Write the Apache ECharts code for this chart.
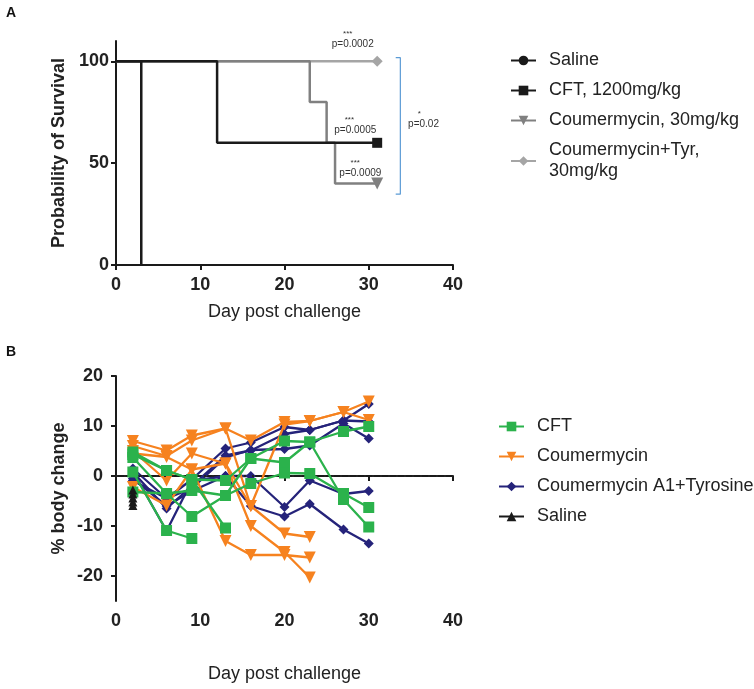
<!DOCTYPE html>
<html><head><meta charset="utf-8">
<script src="https://cdn.jsdelivr.net/npm/echarts@6/dist/echarts.min.js"></script>
<style>html,body{margin:0;padding:0;background:#fff}#c{width:754px;height:689px}</style>
</head><body><div id="c"></div>
<script>
const FONT = '"Liberation Sans", Arial, Helvetica, sans-serif';
const AXC = '#1a1a1a';

// ---------- Panel A : survival (day, % surviving) ----------
const survSaline = [[0, 100], [3, 0]];
const survCFT = [[0, 100], [12, 60], [31, 60]];
const survCoum = [[0, 100], [23, 80], [25, 60], [26, 40], [31, 40]];
const survCoumTyr = [[0, 100], [31, 100]];
const survTicksY = [0, 50, 100];

// ---------- Panel B : % body change ----------
const days = [2, 6, 9, 13, 16, 20, 23, 27, 30];
const cft1 = [4.8, 1.1, -0.7, -0.9, 3.5, 7.0, 6.8, 8.9, 9.9];
const cft2 = [3.7, -3.5, -2.9, -3.9, 3.5, 2.7, 6.8, -4.7, -10.2];
const cft3 = [-3.2, -3.5, -8.1, -3.9, -1.5, 0.6, 0.5, -3.5, -6.3];
const cft4 = [4.3, 1.1, -0.7, -10.4];
const cft5 = [0.8, -10.9, -12.5];
const coum1 = [7.0, 5.1, 8.1, 9.5, 7.1, 10.8, 11.0, 12.8, 14.9];
const coum2 = [6.0, 4.0, 7.1, 9.5, -6.0, 10.3, 11.0, 12.8, 11.2];
const coum3 = [5.0, -0.9, 4.5, 2.5, -10.0, -15.2, -20.3];
const coum4 = [-2.2, -5.9, 1.3, -13.0, -15.8, -15.8, -16.3];
const coum5 = [4.5, 3.8, 1.3, 2.5, -6.0, -11.5, -12.2];
const tyr1 = [1.5, -4.5, -0.7, 5.5, 6.7, 9.8, 9.2, 11.1, 14.4];
const tyr2 = [0.8, -6.5, -2.0, 4.1, 5.1, 8.4, 9.2, 11.1, 10.9];
const tyr3 = [-0.9, -4.5, -2.5, 3.7, 5.2, 5.4, 6.1, 10.5, 7.5];
const tyr4 = [1.0, -11.0, -1.0, 0.0, 0.0, -6.2, -0.9, -3.6, -3.0];
const tyr5 = [-0.5, -6.0, -3.0, 0.0, -6.0, -8.1, -5.6, -10.7, -13.5];
const salineB = [-2.8, -3.6, -4.4, -5.2, -5.9];
const bodyTicksY = [-20, -10, 0, 10, 20];

// annotations (data coords of panel A)
const annText = [
  {x: 27.5, y: 113.6, t: '***', s: 8}, {x: 28.1, y: 108.2, t: 'p=0.0002', s: 10},
  {x: 27.7, y: 71.4, t: '***', s: 8}, {x: 28.4, y: 66.2, t: 'p=0.0005', s: 10},
  {x: 28.4, y: 50.3, t: '***', s: 8}, {x: 29.0, y: 45.2, t: 'p=0.0009', s: 10},
  {x: 36.0, y: 74.4, t: '*', s: 8}, {x: 36.5, y: 68.9, t: 'p=0.02', s: 10}
];
const bracket = [[33.2, 101.8], [33.75, 101.8], [33.75, 34.8], [33.2, 34.8]];

const GREEN = '#2bb24c', ORANGE = '#f6821f', NAVY = '#25237a';

function survSeries(name, pts, color, symbol, size, rot, z, endMarker) {
  return {
    type: 'line', name, xAxisIndex: 0, yAxisIndex: 0, step: 'end', z,
    symbol, symbolSize: size, symbolRotate: rot, color,
    lineStyle: {color, width: 2.5}, itemStyle: {color},
    data: pts.map((p, i) => (endMarker && i === pts.length - 1)
      ? {value: p} : {value: p, symbol: 'none'}),
    animation: false, silent: true
  };
}

function bodySeries(name, vals, color, symbol, size, rot, z) {
  return {
    type: 'line', name, xAxisIndex: 1, yAxisIndex: 1, z,
    symbol, symbolSize: size, symbolRotate: rot, color,
    lineStyle: {color, width: 2.3}, itemStyle: {color},
    data: vals.map((v, i) => [days[i], v]),
    animation: false, silent: true
  };
}

function xAx(grid, gap) {
  return {
    type: 'value', gridIndex: grid, min: 0, max: 40, interval: 10,
    name: 'Day post challenge', nameLocation: 'middle', nameGap: gap,
    nameTextStyle: {fontSize: 18, fontFamily: FONT, color: '#222'},
    axisLine: {show: true, lineStyle: {color: AXC, width: 2}},
    axisTick: {show: true, length: 5, lineStyle: {color: AXC, width: 2}},
    axisLabel: {fontSize: 18, fontWeight: 'bold', fontFamily: FONT, color: '#222', margin: 11},
    splitLine: {show: false}
  };
}
function yAx(grid, min, max, ticks, name, gap, margin) {
  return {
    type: 'value', gridIndex: grid, min, max,
    name, nameLocation: 'middle', nameGap: gap,
    nameTextStyle: {fontSize: 18, fontWeight: 'bold', fontFamily: FONT, color: '#222'},
    axisLine: {show: true, onZero: false, lineStyle: {color: AXC, width: 2}},
    axisTick: {show: true, length: 5, customValues: ticks, lineStyle: {color: AXC, width: 2}},
    axisLabel: {fontSize: 18, fontWeight: 'bold', fontFamily: FONT, color: '#222', margin, customValues: ticks},
    splitLine: {show: false}
  };
}

const series = [
  survSeries('Coumermycin+Tyr,\n30mg/kg', survCoumTyr, '#a5a5a5', 'diamond', 11, 0, 2, true),
  survSeries('Coumermycin, 30mg/kg', survCoum, '#808080', 'triangle', 12, 180, 3, true),
  survSeries('CFT, 1200mg/kg', survCFT, '#1a1a1a', 'rect', 10, 0, 4, true),
  survSeries('Saline', survSaline, '#1a1a1a', 'circle', 10, 0, 5, false),
  {
    type: 'line', name: 'bracket', xAxisIndex: 0, yAxisIndex: 0, data: bracket,
    symbol: 'none', lineStyle: {color: '#5b9bd5', width: 1.2}, clip: false,
    animation: false, silent: true
  },
  {
    type: 'line', name: 'zero', xAxisIndex: 1, yAxisIndex: 1, data: [], z: 1,
    markLine: {
      silent: true, symbol: ['none', 'none'], label: {show: false},
      lineStyle: {color: '#222', type: [2, 6], width: 2.2},
      data: [{yAxis: 0}], animation: false
    }
  }
];
[tyr1, tyr2, tyr3, tyr4, tyr5].forEach(v => series.push(bodySeries('Coumermycin A1+Tyrosine', v, NAVY, 'diamond', 10, 0, 3)));
[coum1, coum2, coum3, coum4, coum5].forEach(v => series.push(bodySeries('Coumermycin', v, ORANGE, 'triangle', 12, 180, 4)));
[cft1, cft2, cft3, cft4, cft5].forEach(v => series.push(bodySeries('CFT', v, GREEN, 'rect', 11, 0, 5)));
series.push({
  type: 'line', name: 'Saline ', xAxisIndex: 1, yAxisIndex: 1, z: 6,
  symbol: 'triangle', symbolSize: 9, color: '#1a1a1a', itemStyle: {color: '#1a1a1a'},
  lineStyle: {width: 0, color: '#1a1a1a'},
  data: salineB.map(v => [days[0], v]), animation: false, silent: true
});

const legText = {fontSize: 18, fontFamily: FONT, color: '#222', lineHeight: 21, padding: [0, 0, 0, 8]};
const option = {
  backgroundColor: '#fff',
  animation: false,
  grid: [
    {left: 116, top: 41, width: 337, height: 224},
    {left: 116, top: 376, width: 337, height: 225}
  ],
  xAxis: [xAx(0, 38), xAx(1, 64)],
  yAxis: [
    yAx(0, 0, 110, survTicksY, 'Probability of Survival', 48, 7),
    yAx(1, -25, 20, bodyTicksY, '% body change', 48, 13)
  ],
  legend: [
    {
      data: ['Saline', 'CFT, 1200mg/kg', 'Coumermycin, 30mg/kg', 'Coumermycin+Tyr,\n30mg/kg'],
      orient: 'vertical', left: 505, top: 45, itemGap: 9, itemWidth: 25, itemHeight: 12,
      textStyle: legText, selectedMode: false
    },
    {
      data: ['CFT', 'Coumermycin', 'Coumermycin A1+Tyrosine',
        {name: 'Saline ', lineStyle: {width: 2, color: '#1a1a1a'}}],
      orient: 'vertical', left: 493, top: 411, itemGap: 9, itemWidth: 25, itemHeight: 12,
      textStyle: legText, selectedMode: false
    }
  ],
  series
};

const chart = echarts.init(document.getElementById('c'), null, {renderer: 'canvas'});
chart.setOption(option);

const graphics = [
  {type: 'text', left: 6, top: 6, style: {text: 'A', fontSize: 14, fontWeight: 'bold', fontFamily: FONT, fill: '#111'}},
  {type: 'text', left: 6, top: 345, style: {text: 'B', fontSize: 14, fontWeight: 'bold', fontFamily: FONT, fill: '#111'}}
];
annText.forEach(a => {
  const p = chart.convertToPixel({xAxisIndex: 0, yAxisIndex: 0}, [a.x, a.y]);
  graphics.push({type: 'text', x: p[0], y: p[1], silent: true,
    style: {text: a.t, fontSize: a.s, fontFamily: FONT, fill: '#333', align: 'center', verticalAlign: 'middle'}});
});
chart.setOption({graphic: graphics});
</script></body></html>
